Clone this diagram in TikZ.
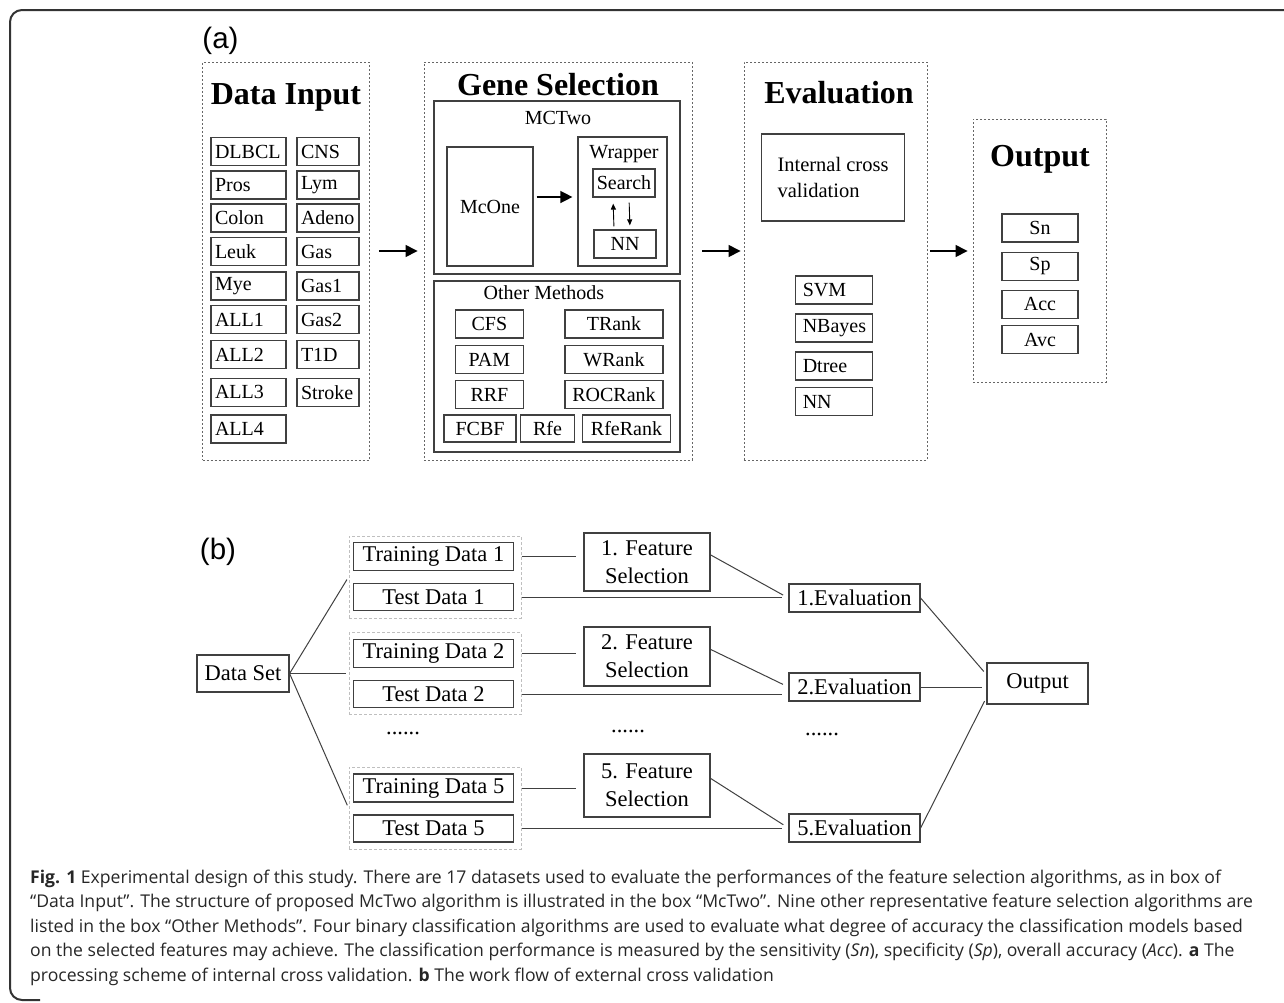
\documentclass[tikz,border=0pt]{standalone}
\usepackage{fontspec}
\setmainfont{Liberation Serif}
\newfontfamily\capfont{Open Sans}
\newfontfamily\labfont{Liberation Sans}
\usetikzlibrary{arrows.meta}
\tikzstyle{panel} = [draw=black!60, dash pattern=on 2pt off 2pt, line width=0.9pt, inner sep=0pt]
\tikzstyle{group} = [draw=black!25, dash pattern=on 3pt off 2pt, line width=1pt, inner sep=0pt]
\tikzstyle{frame} = [draw=black!75, line width=1.2pt, inner sep=0pt]
\tikzstyle{small} = [frame, font=\fontsize{20}{24}\selectfont, minimum height=28pt]
\tikzstyle{wide} = [frame, font=\fontsize{22.5}{28}\selectfont, minimum height=28pt]
\tikzstyle{title} = [font=\fontsize{32}{36}\selectfont\bfseries]
\tikzstyle{link} = [draw=black!75, line width=1pt]
\tikzset{>={Triangle[length=12pt,width=12pt]}}
\tikzset{lbox/.style={small, inner xsep=4pt, text width=#1, align=left}}

\begin{document}
\begin{tikzpicture}[x=1pt, y=-1pt]
  \useasboundingbox (0,0) rectangle (1284,1002);
  % Outer frame
  \draw[black!80, line width=2pt, rounded corners=12pt] (1290,10) -- (10,10) -- (10,1000) -- (40,1000);

  % (a) panels
  \node[font=\labfont\fontsize{29.5}{32}\selectfont] (alabel) at (220.5,41) {(a)};
  \node[panel, minimum width=166.6pt, minimum height=398pt] (datain) at (286,261) {};
  \node[panel, minimum width=268pt, minimum height=398pt] (genesel) at (558,261) {};
  \node[panel, minimum width=183pt, minimum height=398pt] (evalbox) at (835.5,261) {};
  \node[panel, minimum width=133pt, minimum height=263pt] (outbox) at (1039.5,250.5) {};
  \node[title] (datatitle) at (286,97) {Data Input};
  \node[title] (genetitle) at (558,85) {Gene Selection};
  \node[title] (evaltitle) at (839,93) {Evaluation};
  \node[title] (outtitle) at (1040,159) {Output};

  % Datasets
  \foreach \name/\y [count=\i] in {DLBCL/151.5, Pros/185, Colon/218, Leuk/251.5, Mye/286, ALL1/319.7, ALL2/354.7, ALL3/392.3, ALL4/429}
    \node[lbox=67pt] (da\i) at (248.5,\y) {\name};
  \foreach \name/\y [count=\i] in {CNS/151.5, Lym/185, Adeno/218, Gas/251.5, Gas1/286, Gas2/319.7, T1D/354.7, Stroke/392.3}
    \node[lbox=54pt] (db\i) at (328,\y) {\name};

  % MCTwo
  \node[frame, minimum width=246pt, minimum height=173pt] (mctwo) at (557,187.5) {};
  \node[font=\fontsize{20}{24}\selectfont] (mctwolabel) at (558,118) {MCTwo};
  \node[small, minimum width=86pt, minimum height=119pt] (mcone) at (490,206.5) {McOne};
  \node[frame, minimum width=89pt, minimum height=129pt] (wrapper) at (622.5,201.5) {};
  \node[font=\fontsize{20}{24}\selectfont] (wrapperlabel) at (624,154) {Wrapper};
  \node[small, minimum width=62pt] (search) at (624,183) {Search};
  \node[small, minimum width=62pt] (nn) at (625,244) {NN};
  \coordinate (mcarrow) at (0,197);
  \draw[->, line width=1.4pt, shorten <=3pt, shorten >=5pt] (mcone.east |- mcarrow) -- (wrapper.west |- mcarrow);
  \draw[-{Triangle[length=6pt,width=5pt]}, line width=0.9pt, shorten <=3pt, shorten >=6pt] ([xshift=-11pt]nn.north) -- ([xshift=-11pt]search.south);
  \draw[-{Triangle[length=6pt,width=5pt]}, line width=0.9pt, shorten <=5pt, shorten >=4pt] ([xshift=5pt]search.south) -- ([xshift=5pt]nn.north);

  % Other methods
  \node[frame, minimum width=246pt, minimum height=171pt] (others) at (557,366.5) {};
  \node[font=\fontsize{20}{24}\selectfont] (otherslabel) at (544,293) {Other Methods};
  \foreach \name/\y [count=\i] in {CFS/324, PAM/359.5, RRF/394.5}
    \node[small, minimum width=68pt] (ma\i) at (489.4,\y) {\name};
  \foreach \name/\y [count=\i] in {TRank/324, WRank/359.5, ROCRank/394.5}
    \node[small, minimum width=98pt] (mb\i) at (614,\y) {\name};
  \foreach \name/\x/\w [count=\i] in {FCBF/480/72, Rfe/547.5/53.6, RfeRank/626.5/88.4}
    \node[small, minimum width=\w pt, minimum height=27pt] (mc\i) at (\x,428.5) {\name};

  % Evaluation
  \node[small, align=left, font=\fontsize{20.5}{26.5}\selectfont, minimum width=143pt, minimum height=87pt] (internal) at (833,177.5) {Internal cross\\validation};
  \foreach \name/\y [count=\i] in {SVM/290, NBayes/328, Dtree/366, NN/401.5}
    \node[small, inner xsep=7pt, text width=62.5pt, align=left] (cl\i) at (834,\y) {\name};

  % Output measures
  \foreach \name/\y [count=\i] in {Sn/228, Sp/266.3, Acc/304.3, Avc/339.5}
    \node[small, minimum width=76pt] (ms\i) at (1040,\y) {\name};

  % Arrows between panels
  \coordinate (arrowlevel) at (0,251);
  \draw[->, line width=1.4pt, shorten <=9pt, shorten >=6pt] (datain.east |- arrowlevel) -- (genesel.west |- arrowlevel);
  \draw[->, line width=1.4pt, shorten <=10pt, shorten >=3pt] (genesel.east |- arrowlevel) -- (evalbox.west |- arrowlevel);
  \draw[->, line width=1.4pt, shorten <=3pt, shorten >=5pt] (evalbox.east |- arrowlevel) -- (outbox.west |- arrowlevel);

  % (b) external cross validation
  \node[font=\labfont\fontsize{29.5}{32}\selectfont] (blabel) at (218,552) {(b)};
  \node[wide, minimum width=92pt, minimum height=37pt] (dataset) at (243,673.5) {Data Set};
  \foreach \k/\y in {1/577, 2/673.5, 5/808}
    \node[group, minimum width=172pt, minimum height=82pt] (grp\k) at (435,\y) {};
  \foreach \k/\y in {1/556.5, 2/653.5, 5/788} {
    \node[wide, minimum width=160pt] (tr\k) at (433.5,\y) {Training Data \k};
    \node[wide, minimum width=160pt, minimum height=27pt] (te\k) at (433.5,\y+40.5) {Test Data \k};
  }
  \foreach \k/\y/\h in {1/562/58, 2/656.5/59, 5/785.5/63}
    \node[wide, line width=1.6pt, align=center, minimum width=126pt, minimum height=\h pt] (fs\k) at (647,\y) {\k. Feature\\Selection};
  \foreach \k/\y in {1/598, 2/687, 5/828}
    \node[wide, minimum width=131pt] (ev\k) at (854.5,\y) {\k.Evaluation};
  \node[wide, minimum width=101pt, minimum height=41pt] (result) at (1037.5,683.5) {Output};
  \node[font=\fontsize{22.5}{28}\selectfont] (dotsa) at (403,733) {......};
  \node[font=\fontsize{22.5}{28}\selectfont] (dotsb) at (628,731) {......};
  \node[font=\fontsize{22.5}{28}\selectfont] (dotsc) at (822,734) {......};

  % Connectors
  \foreach \k in {1,2,5} {
    \draw[link, shorten >=3pt] (dataset.east) -- (grp\k.west);
    \draw[link, shorten >=7pt] (grp\k.east |- tr\k) -- (fs\k.west |- tr\k);
    \draw[link, shorten >=6pt] (grp\k.east |- te\k) -- (ev\k.west |- te\k);
    \draw[link, shorten >=6pt] ([yshift=7pt]fs\k.east) -- (ev\k.west);
  }
  \draw[link, shorten >=4pt] (ev1.east) -- ([yshift=9pt]result.west);
  \draw[link, shorten >=4pt] (ev2.east) -- (result.west |- ev2);
  \draw[link, shorten >=4pt] (ev5.east) -- ([yshift=-14pt]result.west);

  % Caption (anchored on its last baseline)
  \node[anchor=base west, align=left, inner sep=0pt, text=black!85, font=\capfont\fontsize{17.6}{24.5}\selectfont] (caption) at (30,981)
    {\textbf{Fig. 1} Experimental design of this study. There are 17 datasets used to evaluate the performances of the feature selection algorithms, as in box of\\
     “Data Input”. The structure of proposed McTwo algorithm is illustrated in the box “McTwo”. Nine other representative feature selection algorithms are\\
     listed in the box “Other Methods”. Four binary classification algorithms are used to evaluate what degree of accuracy the classification models based\\
     on the selected features may achieve. The classification performance is measured by the sensitivity (\textit{Sn}), specificity (\textit{Sp}), overall accuracy (\textit{Acc}). \textbf{a} The\\
     processing scheme of internal cross validation. \textbf{b} The work flow of external cross validation};
\end{tikzpicture}
\end{document}
